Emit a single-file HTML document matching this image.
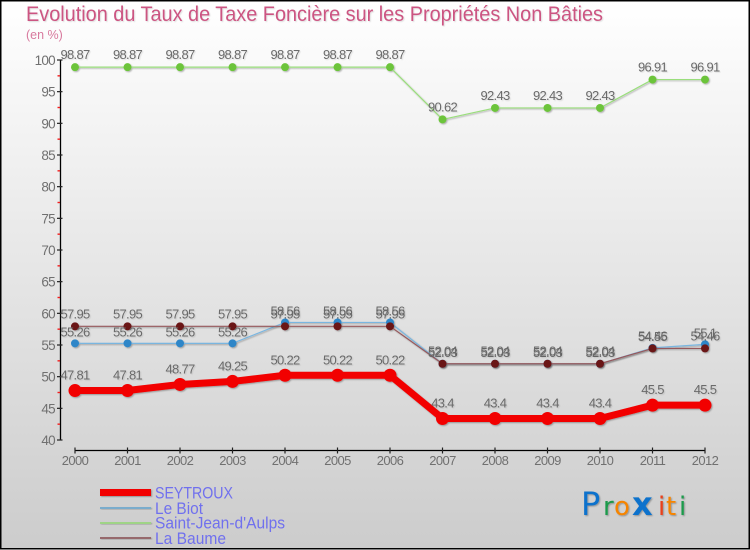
<!DOCTYPE html>
<html>
<head>
<meta charset="utf-8">
<title>Evolution du Taux de Taxe Foncière</title>
<style>
html,body{margin:0;padding:0;background:#fff;}
svg{display:block;font-family:"Liberation Sans",sans-serif;}
</style>
</head>
<body>
<svg id="chart" width="750" height="550" viewBox="0 0 750 550" xmlns="http://www.w3.org/2000/svg">
<defs>
<linearGradient id="bg" x1="0" y1="0" x2="0" y2="1">
<stop offset="0" stop-color="#ffffff"/>
<stop offset="1" stop-color="#cccccc"/>
</linearGradient>
<filter id="soft" x="-20%" y="-20%" width="140%" height="140%">
<feDropShadow dx="1" dy="1" stdDeviation="0.8" flood-color="#000" flood-opacity="0.3"/>
</filter>
<filter id="softtext" x="-10%" y="-20%" width="120%" height="150%">
<feDropShadow dx="1" dy="1" stdDeviation="0.6" flood-color="#000" flood-opacity="0.12"/>
</filter>
</defs>
<rect x="0.75" y="0.75" width="748.5" height="548" fill="url(#bg)" stroke="#000" stroke-width="1.5"/>
<text x="26" y="21" font-size="21" fill="#cc5582" textLength="577" lengthAdjust="spacingAndGlyphs" filter="url(#softtext)">Evolution du Taux de Taxe Foncière sur les Propriétés Non Bâties</text>
<text x="26" y="39" font-size="12.5" fill="#d87a9e">(en %)</text>
<g id="axes"></g>
<g id="series"></g>
<g id="labels"></g>
<g>
<rect x="100" y="489" width="51" height="7" fill="#f20000" filter="url(#soft)"/>
<text x="155" y="498.5" font-size="16.5" fill="#7070ee" textLength="78" lengthAdjust="spacingAndGlyphs">SEYTROUX</text>
<rect x="100" y="507" width="51" height="2" fill="#7aaccc" filter="url(#soft)"/>
<text x="155" y="514" font-size="16.5" fill="#7070ee" textLength="48" lengthAdjust="spacingAndGlyphs">Le Biot</text>
<rect x="100" y="522" width="51" height="2" fill="#9fd486" filter="url(#soft)"/>
<text x="155" y="528.5" font-size="16.5" fill="#7070ee" textLength="130" lengthAdjust="spacingAndGlyphs">Saint-Jean-d'Aulps</text>
<rect x="100" y="537" width="51" height="2" fill="#96696c" filter="url(#soft)"/>
<text x="155" y="544" font-size="16.5" fill="#7070ee" textLength="71" lengthAdjust="spacingAndGlyphs">La Baume</text>
</g>
<g filter="url(#soft)">
<text y="515" font-family="'DejaVu Sans',sans-serif"><tspan x="581" fill="#0f72cc" font-size="32">P</tspan><tspan x="603" fill="#1f9a4c" font-size="26">r</tspan><tspan x="614" fill="#f58400" font-size="26">o</tspan><tspan x="632" fill="#0f72cc" font-size="32" font-weight="bold">x</tspan><tspan x="658" fill="#e8401a" font-size="26">i</tspan><tspan x="666" fill="#f58400" font-size="26">t</tspan><tspan x="679" fill="#1f9a4c" font-size="26">i</tspan></text>
</g>
</svg>
<script>
const years = ["2000","2001","2002","2003","2004","2005","2006","2007","2008","2009","2010","2011","2012"];
const yTicks = [100,95,90,85,80,75,70,65,60,55,50,45,40];
const yMinorTicks = [97.5,92.5,87.5,82.5,77.5,72.5,67.5,62.5,57.5,52.5,47.5,42.5];
const seytrouxValues = [47.81,47.81,48.77,49.25,50.22,50.22,50.22,43.4,43.4,43.4,43.4,45.5,45.5];
const leBiotValues = [55.26,55.26,55.26,55.26,58.56,58.56,58.56,52.03,52.03,52.03,52.03,54.55,55.1];
const saintJeanValues = [98.87,98.87,98.87,98.87,98.87,98.87,98.87,90.62,92.43,92.43,92.43,96.91,96.91];
const laBaumeValues = [57.95,57.95,57.95,57.95,57.95,57.95,57.95,52.04,52.04,52.04,52.04,54.46,54.46];

const NS = "http://www.w3.org/2000/svg";
function xAt(i){ return 75 + i * (630 / (years.length - 1)); }
function yAt(v){ return 440 - (v - 40) * (380 / 60); }
function make(tag, attrs, parent){
  const el = document.createElementNS(NS, tag);
  for (const k in attrs) el.setAttribute(k, attrs[k]);
  parent.appendChild(el);
  return el;
}
const axes = document.getElementById("axes");
const seriesLayer = document.getElementById("series");
const labelsLayer = document.getElementById("labels");

const yAxis = make("line", {x1:60.5, y1:yAt(100), x2:60.5, y2:yAt(40), stroke:"#000", "stroke-width":1.3}, axes);


const xAxis = make("line", {x1:xAt(0), y1:450.5, x2:xAt(years.length-1), y2:450.5, stroke:"#000", "stroke-width":1.3}, axes);



yTicks.forEach(function(v){
  const t = make("line", {x1:57, y1:yAt(v), x2:62.5, y2:yAt(v), stroke:"#222", "stroke-width":1.2}, axes);
  
  
  const l = make("text", {x:55, y:yAt(v)+5, "text-anchor":"end", "font-size":13.5, "letter-spacing":"-0.7", fill:"#707070"}, axes);
  l.textContent = v;
  
  
});
yMinorTicks.forEach(function(v){
  const t = make("line", {x1:57.5, y1:yAt(v), x2:60, y2:yAt(v), stroke:"#f02020", "stroke-width":1.4}, axes);
  
  
});
years.forEach(function(y, i){
  const t = make("line", {x1:xAt(i), y1:447.5, x2:xAt(i), y2:453.5, stroke:"#222", "stroke-width":1.2}, axes);
  
  
  const l = make("text", {x:xAt(i), y:465, "text-anchor":"middle", "font-size":13, "letter-spacing":"-0.6", fill:"#707070"}, axes);
  l.textContent = y;
  
  
});

function drawSeries(name, values, lineColor, dotColor, lineWidth, radius, labelGap){
  const g = make("g", {filter:"url(#soft)"}, seriesLayer);
  
  
  const pts = values.map(function(v, i){ return xAt(i) + "," + yAt(v); }).join(" ");
  const line = make("polyline", {points:pts, fill:"none", stroke:lineColor, "stroke-width":lineWidth, "stroke-linejoin":"round"}, g);
  
  
  values.forEach(function(v, i){
    const c = make("circle", {cx:xAt(i), cy:yAt(v), r:radius, fill:dotColor}, g);
    
    
    const l = make("text", {x:xAt(i), y:yAt(v)-labelGap, "text-anchor":"middle", "font-size":13, "letter-spacing":"-0.7", fill:"#6a6a6a", filter:"url(#softtext)"}, labelsLayer);
    l.textContent = v;
    
    
  });
}
drawSeries("saint-jean-d-aulps", saintJeanValues, "#9ade7c", "#6cc43a", 1.2, 4, 8);
drawSeries("le-biot", leBiotValues, "#7ab6e0", "#2e86c8", 1.2, 4, 7);
drawSeries("seytroux", seytrouxValues, "#f20000", "#f20000", 7, 6.5, 11);
drawSeries("la-baume", laBaumeValues, "#96585c", "#6a1214", 1.2, 4, 8);
</script>
</body>
</html>
